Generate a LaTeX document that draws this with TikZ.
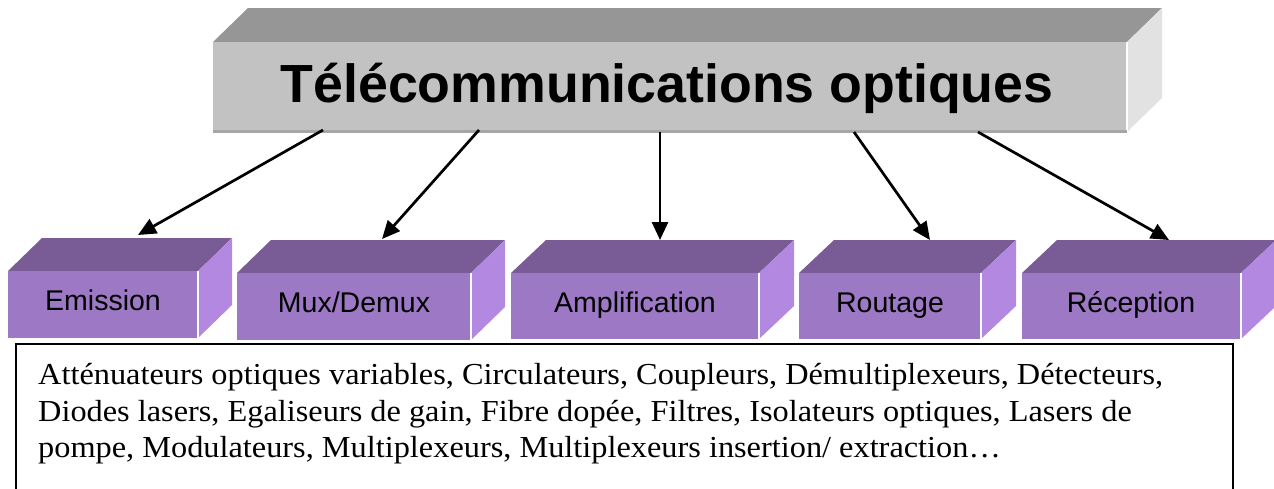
\documentclass[tikz,border=0pt]{standalone}
\usepackage{fontspec}
\setmainfont{Liberation Serif}
\newfontfamily\arialf{Liberation Sans}
\newfontfamily\bodyf[FakeStretch=1.06]{Liberation Serif}
\usetikzlibrary{arrows.meta}
\definecolor{gTop}{HTML}{969696}
\definecolor{gFront}{HTML}{C2C2C2}
\definecolor{gSide}{HTML}{E2E2E2}
\definecolor{gShade}{HTML}{A6A6A6}
\definecolor{pTop}{HTML}{795C96}
\definecolor{pFront}{HTML}{9D78C4}
\definecolor{pSide}{HTML}{B288E0}
\newcommand\prismbox[7]{%
  \fill[#7Top] (#1,#3) -- (#1+#5,#3-#6) -- (#2+#5,#3-#6) -- (#2,#3) -- cycle;
  \fill[#7Side] (#2,#3) -- (#2+#5,#3-#6) -- (#2+#5,#4-#6) -- (#2,#4) -- cycle;
  \fill[#7Front] (#1,#3) rectangle (#2,#4);
  \draw[white, line width=1.5pt] (#2,#3) -- (#2,#4);
}
\tikzset{
  titletext/.style={font=\arialf\bfseries\fontsize{53.7}{60}\selectfont, anchor=base, inner sep=0pt},
  lbl/.style={font=\arialf\fontsize{28.5}{34}\selectfont, anchor=base, inner sep=0pt},
  bodytext/.style={font=\bodyf\fontsize{30.5}{36}\selectfont, anchor=base west, inner sep=0pt},
  conn/.style={line width=2.7pt, -{Triangle[length=18pt,width=16pt]}},
}
\begin{document}
\begin{tikzpicture}[x=1pt,y=-1pt]
\useasboundingbox (0,0) rectangle (1274,488);
\clip (0,0) rectangle (1274,488);
% top box
\prismbox{213}{1127}{42}{132}{35}{34}{g}
\fill[gShade] (213,130) rectangle (1127,133);
\node[titletext] (title) at (667,102) {Télécommunications optiques};
% purple boxes
\prismbox{8}{198}{271}{338}{34}{33}{p}
\prismbox{237}{471}{273}{340}{34}{33}{p}
\prismbox{511}{759}{273}{339}{35}{33}{p}
\prismbox{799}{981}{273}{339}{35}{33}{p}
\prismbox{1022}{1241}{273}{339}{35}{33}{p}
\node[lbl] (emi) at (103,310) {Emission};
\node[lbl] (mux) at (354,312) {Mux/Demux};
\node[lbl] (amp) at (635,312) {Amplification};
\node[lbl] (rou) at (890,312) {Routage};
\node[lbl] (rec) at (1131,312) {Réception};
% arrows
\coordinate (s1) at (323,130);
\coordinate (e1) at (138,235);
\coordinate (s2) at (479,130);
\coordinate (e2) at (382,239);
\coordinate (s3) at (660,132);
\coordinate (e3) at (660,240);
\coordinate (s4) at (854,132);
\coordinate (e4) at (930,240);
\coordinate (s5) at (978,132);
\coordinate (e5) at (1169,240);
\draw[conn] (s1) -- (e1);
\draw[conn] (s2) -- (e2);
\draw[conn] (s3) -- (e3);
\draw[conn] (s4) -- (e4);
\draw[conn] (s5) -- (e5);
% text box
\draw[line width=2pt, fill=white] (16,344) rectangle (1233,500);
\node[bodytext] (l1) at (38,384) {Atténuateurs optiques variables, Circulateurs, Coupleurs, Démultiplexeurs, Détecteurs,};
\node[bodytext] (l2) at (38,421) {Diodes lasers, Egaliseurs de gain, Fibre dopée, Filtres, Isolateurs optiques, Lasers de};
\node[bodytext] (l3) at (38,457) {pompe, Modulateurs, Multiplexeurs, Multiplexeurs insertion/ extraction…};
\end{tikzpicture}
\end{document}
